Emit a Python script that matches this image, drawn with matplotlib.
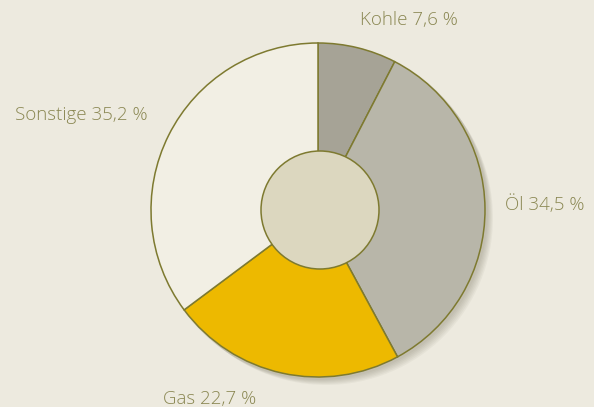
import matplotlib.pyplot as plt
from matplotlib.patches import Circle

# --- Daten ---
labels = ["Kohle", "Öl", "Gas", "Sonstige"]
anteile = [7.6, 34.5, 22.7, 35.2]
farben = ["#a6a396", "#b8b6a9", "#edb900", "#f2efe4"]
label_pos = [(409, 387), (545, 202), (210, 8), (81, 292)]  # Pixel (y von unten)

bg = "#edeadf"
rand = "#7e7a30"
textfarbe = "#8a8752"

fig = plt.figure(figsize=(5.94, 4.07), dpi=100)
fig.patch.set_facecolor(bg)
ax = fig.add_axes([0, 0, 1, 1])

cx, cy, r = 318, 197, 167

# weicher Schatten
for i in range(6):
    off = 1.5 + i * 1.3
    ax.add_patch(Circle((cx + off, cy - off), r + 1.5 - i * 0.3,
                        color="#5a5640", alpha=0.05, lw=0, zorder=1))

ax.pie(anteile, colors=farben, startangle=90, counterclock=False,
       center=(cx, cy), radius=r, frame=True,
       wedgeprops=dict(edgecolor=rand, linewidth=1.1, zorder=2))
ax.set_xlim(0, 594)
ax.set_ylim(0, 407)
ax.set_facecolor(bg)
ax.axis("off")

ax.add_patch(Circle((cx + 2, cy), 59, facecolor="#dcd7bf", edgecolor=rand,
                    lw=1.1, zorder=3))

for lab, wert, (x, y) in zip(labels, anteile, label_pos):
    txt = f"{lab} {wert:.1f} %".replace(".", ",")
    ax.text(x, y, txt, ha="center", va="center", fontsize=13.5,
            color=textfarbe, family="Open Sans", fontweight="light")

fig.savefig("out.png", dpi=100, facecolor=bg)
